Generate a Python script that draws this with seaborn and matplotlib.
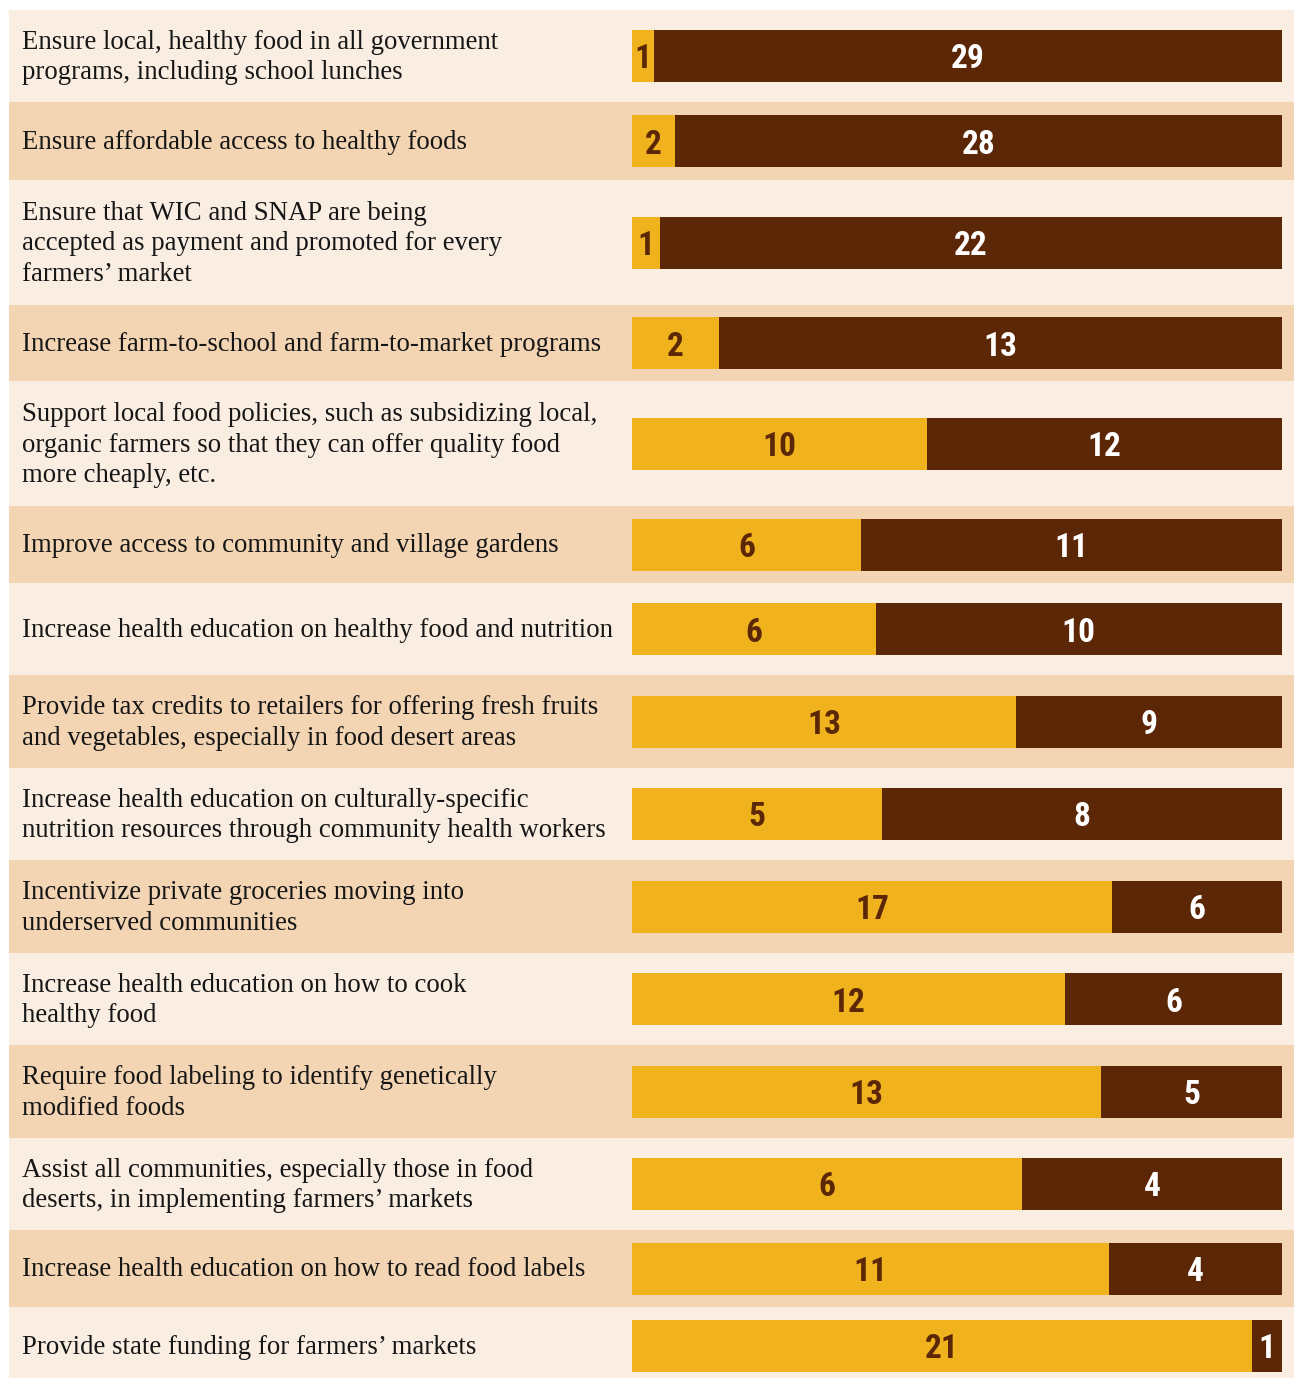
import numpy as np
import pandas as pd
import seaborn as sns
import matplotlib.pyplot as plt
from matplotlib.patches import Rectangle

# Policy options and the two vote counts for each one
labels = [
    "Ensure local, healthy food in all government\nprograms, including school lunches",
    "Ensure affordable access to healthy foods",
    "Ensure that WIC and SNAP are being\naccepted as payment and promoted for every\nfarmers\u2019 market",
    "Increase farm-to-school and farm-to-market programs",
    "Support local food policies, such as subsidizing local,\norganic farmers so that they can offer quality food\nmore cheaply, etc.",
    "Improve access to community and village gardens",
    "Increase health education on healthy food and nutrition",
    "Provide tax credits to retailers for offering fresh fruits\nand vegetables, especially in food desert areas",
    "Increase health education on culturally-specific\nnutrition resources through community health workers",
    "Incentivize private groceries moving into\nunderserved communities",
    "Increase health education on how to cook\nhealthy food",
    "Require food labeling to identify genetically\nmodified foods",
    "Assist all communities, especially those in food\ndeserts, in implementing farmers\u2019 markets",
    "Increase health education on how to read food labels",
    "Provide state funding for farmers\u2019 markets",
]
gold_counts = [1, 2, 1, 2, 10, 6, 6, 13, 5, 17, 12, 13, 6, 11, 21]
brown_counts = [29, 28, 22, 13, 12, 11, 10, 9, 8, 6, 6, 5, 4, 4, 1]

GOLD = "#F0B31E"
BROWN = "#5C2707"
CREAM = "#FAEDE1"
TAN = "#F3D5B4"
INK = "#161616"

sns.set_theme(style="white")
plt.rcParams["font.family"] = ["Liberation Serif", "DejaVu Serif"]

W, H = 1294, 1378
fig = plt.figure(figsize=(W / 100, H / 100), dpi=100)
fig.patch.set_facecolor("white")
renderer = fig.canvas.get_renderer()

# Row layout in pixel units: taller rows hold more lines of text
row_heights = [92, 78, 125, 76, 125, 77, 92, 93, 92, 93, 92, 93, 92, 77, 77]
top = 10
edges = top + np.concatenate([[0], np.cumsum(row_heights)])
centers = (edges[:-1] + edges[1:]) / 2

bg = fig.add_axes([0, 0, 1, 1])
bg.set_xlim(0, W)
bg.set_ylim(H, 0)
bg.axis("off")

# Size the label font so the one-line labels fill the text column,
# and space wrapped lines 32 px apart
single_line = [1, 3, 5, 6, 13, 14]
target_px = 446 + 578 + 543 + 576 + 571 + 456
measured = 0.0
for i in single_line:
    t = bg.text(0, 0, labels[i], fontsize=18)
    measured += t.get_window_extent(renderer).width
    t.remove()
label_size = 18 * target_px / measured
p1 = bg.text(0, 0, "lp", fontsize=label_size, linespacing=1.0)
p2 = bg.text(0, 0, "lp\nlp", fontsize=label_size, linespacing=1.0)
dy = p2.get_window_extent(renderer).height - p1.get_window_extent(renderer).height
p1.remove()
p2.remove()
line_sp = 32 / dy

for i, (lab, h) in enumerate(zip(labels, row_heights)):
    bg.add_patch(Rectangle((9, edges[i]), W - 9, h,
                           facecolor=CREAM if i % 2 == 0 else TAN,
                           edgecolor="none"))
    bg.text(22, centers[i] + 1.5, lab, ha="left", va="center",
            fontsize=label_size, linespacing=line_sp, color=INK)

# Stacked 100% bars
bar_left, bar_width = 632, 650
ax = fig.add_axes([bar_left / W, 0, bar_width / W, 1])
ax.patch.set_alpha(0)

gold = np.array(gold_counts, dtype=float)
brown = np.array(brown_counts, dtype=float)
total = gold + brown
df = pd.DataFrame({"pos": centers, "full": 1.0, "gold_share": gold / total})

bar_h = 52 / 77
sns.barplot(data=df, x="full", y="pos", orient="y", native_scale=True,
            color=BROWN, saturation=1, width=bar_h, errorbar=None,
            linewidth=0, ax=ax)
sns.barplot(data=df, x="gold_share", y="pos", orient="y", native_scale=True,
            color=GOLD, saturation=1, width=bar_h, errorbar=None,
            linewidth=0, ax=ax)
ax.set_xlim(0, 1)
ax.set_ylim(H, 0)
ax.axis("off")

num_font = dict(family=["Roboto Condensed", "DejaVu Sans"],
                weight="bold", fontsize=24)
for c, g, b, t in zip(centers, gold, brown, total):
    gs = g / t
    ax.text(gs / 2, c + 12.5, f"{int(g)}", ha="center", va="baseline",
            color=BROWN, **num_font)
    ax.text(gs + (1 - gs) / 2, c + 12.5, f"{int(b)}", ha="center",
            va="baseline", color="white", **num_font)

fig.savefig("out.png", dpi=100, facecolor=fig.get_facecolor())
